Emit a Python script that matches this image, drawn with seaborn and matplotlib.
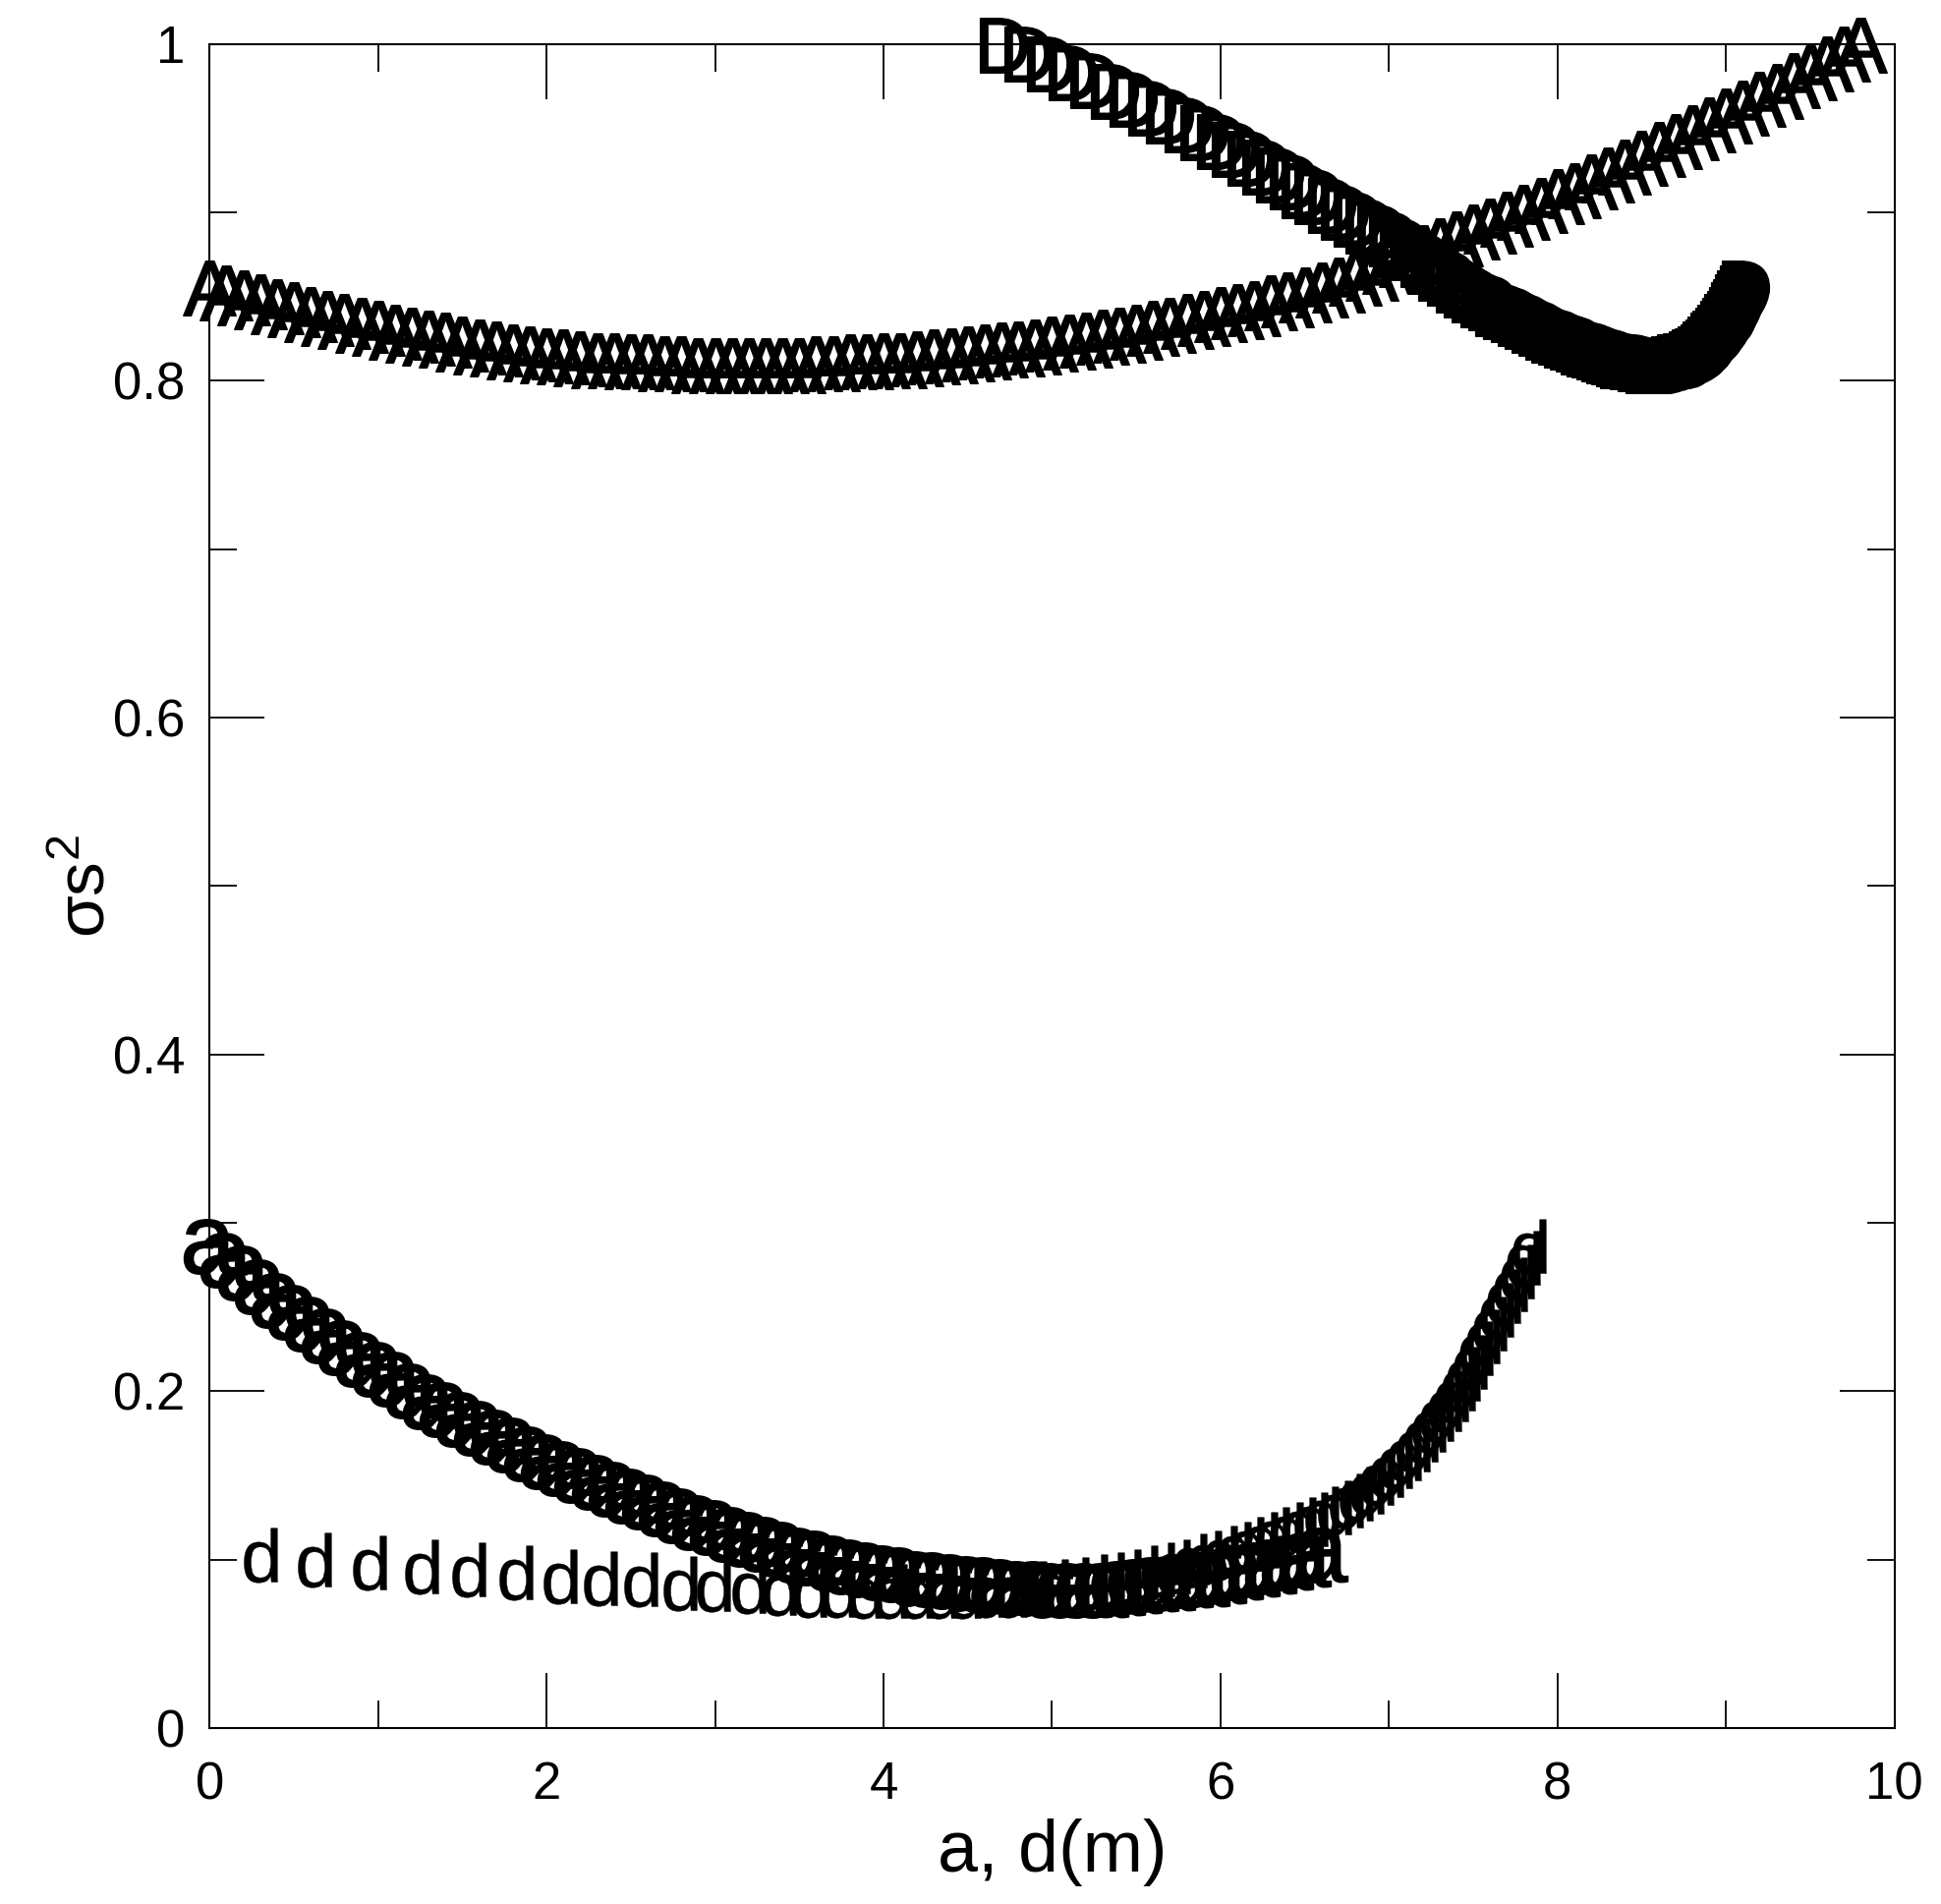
import matplotlib
matplotlib.use("Agg")
import matplotlib.pyplot as plt
import seaborn as sns

# upper curve, "A" markers (x = a)
A_x = [0.0, 0.1, 0.2, 0.3, 0.4, 0.5, 0.6, 0.7, 0.8, 0.9,
       1.0, 1.1, 1.2, 1.3, 1.4, 1.5, 1.6, 1.7, 1.8, 1.9,
       2.0, 2.1, 2.2, 2.3, 2.4, 2.5, 2.6, 2.7, 2.8, 2.9,
       3.0, 3.1, 3.2, 3.3, 3.4, 3.5, 3.6, 3.7, 3.8, 3.9,
       4.0, 4.1, 4.2, 4.3, 4.4, 4.5, 4.6, 4.7, 4.8, 4.9,
       5.0, 5.1, 5.2, 5.3, 5.4, 5.5, 5.6, 5.7, 5.8, 5.9,
       6.0, 6.1, 6.2, 6.3, 6.4, 6.5, 6.6, 6.7, 6.8, 6.9,
       7.0, 7.1, 7.2, 7.3, 7.4, 7.5, 7.6, 7.7, 7.8, 7.9,
       8.0, 8.1, 8.2, 8.3, 8.4, 8.5, 8.6, 8.7, 8.8, 8.9,
       9.0, 9.1, 9.2, 9.3, 9.4, 9.5, 9.6, 9.7, 9.8]
A_y = [0.855, 0.852, 0.849, 0.847, 0.844, 0.842, 0.839, 0.837, 0.835, 0.833,
       0.831, 0.829, 0.827, 0.825, 0.824, 0.822, 0.820, 0.819, 0.817, 0.816,
       0.815, 0.814, 0.813, 0.812, 0.812, 0.811, 0.811, 0.810, 0.810, 0.809,
       0.809, 0.809, 0.809, 0.809, 0.809, 0.809, 0.810, 0.810, 0.811, 0.811,
       0.812, 0.812, 0.813, 0.814, 0.815, 0.816, 0.817, 0.818, 0.819, 0.820,
       0.822, 0.823, 0.824, 0.826, 0.827, 0.829, 0.831, 0.833, 0.835, 0.837,
       0.839, 0.841, 0.843, 0.846, 0.848, 0.851, 0.854, 0.857, 0.861, 0.864,
       0.868, 0.872, 0.876, 0.880, 0.884, 0.888, 0.892, 0.896, 0.900, 0.904,
       0.909, 0.913, 0.918, 0.922, 0.927, 0.932, 0.937, 0.942, 0.947, 0.952,
       0.957, 0.962, 0.967, 0.972, 0.978, 0.983, 0.988, 0.994, 0.999]

# upper curve, "D" markers (x = d)
D_x = [4.71, 4.86, 4.99, 5.12, 5.25, 5.37, 5.48, 5.59, 5.70, 5.81,
       5.90, 6.00, 6.09, 6.18, 6.27, 6.35, 6.43, 6.50, 6.58, 6.66,
       6.736, 6.81, 6.882, 6.952, 7.02, 7.086, 7.149, 7.21, 7.264, 7.316,
       7.367, 7.417, 7.466, 7.514, 7.562, 7.608, 7.654, 7.699, 7.742, 7.785,
       7.827, 7.868, 7.908, 7.947, 7.985, 8.022, 8.058, 8.093, 8.127, 8.16,
       8.192, 8.223, 8.253, 8.283, 8.312, 8.341, 8.368, 8.395, 8.422, 8.448,
       8.473, 8.497, 8.521, 8.544, 8.567, 8.589, 8.611, 8.632, 8.653, 8.673,
       8.693, 8.713, 8.732, 8.75, 8.768, 8.786, 8.803, 8.82, 8.836, 8.852,
       8.868, 8.884, 8.899, 8.914, 8.929, 8.943, 8.957, 8.971, 8.985, 8.999,
       9.012, 9.026, 9.039, 9.052, 9.064, 9.077, 9.089, 9.102, 9.114]
D_y = [0.999, 0.994, 0.988, 0.983, 0.978, 0.972, 0.967, 0.962, 0.957, 0.952,
       0.947, 0.942, 0.937, 0.932, 0.927, 0.922, 0.918, 0.913, 0.909, 0.904,
       0.900, 0.896, 0.892, 0.888, 0.884, 0.880, 0.876, 0.872, 0.868, 0.864,
       0.861, 0.857, 0.854, 0.851, 0.848, 0.846, 0.843, 0.841, 0.839, 0.837,
       0.835, 0.833, 0.831, 0.829, 0.827, 0.826, 0.824, 0.823, 0.822, 0.820,
       0.819, 0.818, 0.817, 0.816, 0.815, 0.814, 0.813, 0.812, 0.812, 0.811,
       0.811, 0.810, 0.810, 0.809, 0.809, 0.809, 0.809, 0.809, 0.809, 0.809,
       0.810, 0.810, 0.811, 0.811, 0.812, 0.812, 0.813, 0.814, 0.815, 0.816,
       0.817, 0.819, 0.820, 0.822, 0.824, 0.825, 0.827, 0.829, 0.831, 0.833,
       0.835, 0.837, 0.839, 0.842, 0.844, 0.847, 0.849, 0.852, 0.855]

# lower curve, "a" markers
a_x = [0.0, 0.1, 0.2, 0.3, 0.4, 0.5, 0.6, 0.7, 0.8, 0.9,
       1.0, 1.1, 1.2, 1.3, 1.4, 1.5, 1.6, 1.7, 1.8, 1.9,
       2.0, 2.1, 2.2, 2.3, 2.4, 2.5, 2.6, 2.7, 2.8, 2.9,
       3.0, 3.1, 3.2, 3.3, 3.4, 3.5, 3.6, 3.7, 3.8, 3.9,
       4.0, 4.1, 4.2, 4.3, 4.4, 4.5, 4.6, 4.7, 4.8, 4.9,
       5.0, 5.1, 5.2, 5.3, 5.4, 5.5, 5.6, 5.7, 5.8, 5.9,
       6.0, 6.1, 6.2, 6.3, 6.4, 6.5, 6.6]
a_y = [0.286, 0.278, 0.270, 0.262, 0.254, 0.247, 0.240, 0.233, 0.226, 0.219,
       0.213, 0.207, 0.200, 0.194, 0.189, 0.183, 0.178, 0.173, 0.168, 0.163,
       0.158, 0.154, 0.150, 0.146, 0.142, 0.138, 0.134, 0.130, 0.126, 0.122,
       0.119, 0.115, 0.112, 0.109, 0.106, 0.103, 0.101, 0.098, 0.096, 0.094,
       0.092, 0.091, 0.089, 0.088, 0.087, 0.086, 0.085, 0.084, 0.083, 0.083,
       0.082, 0.082, 0.082, 0.082, 0.083, 0.084, 0.085, 0.086, 0.0875, 0.088,
       0.090, 0.092, 0.094, 0.096, 0.098, 0.100, 0.103]

# lower curve, "d" markers
d_x = [0.30, 0.62, 0.95, 1.26, 1.54, 1.82, 2.08, 2.32, 2.56, 2.79,
       2.99, 3.20, 3.38, 3.56, 3.73, 3.89, 4.04, 4.19, 4.34, 4.48,
       4.62, 4.75, 4.87, 5.00, 5.12, 5.23, 5.33, 5.43, 5.53, 5.63,
       5.72, 5.82, 5.91, 6.00, 6.08, 6.16, 6.24, 6.31, 6.39, 6.47,
       6.54, 6.60, 6.68, 6.745, 6.808, 6.869, 6.928, 6.985, 7.04, 7.093,
       7.144, 7.193, 7.24, 7.285, 7.328, 7.37, 7.41, 7.44, 7.48, 7.52,
       7.56, 7.60, 7.64, 7.68, 7.72, 7.76, 7.80, 7.83]
d_y = [0.103, 0.100, 0.098, 0.096, 0.094, 0.092, 0.090, 0.089, 0.088, 0.086,
       0.085, 0.084, 0.083, 0.082, 0.082, 0.081, 0.081, 0.081, 0.081, 0.081,
       0.082, 0.082, 0.083, 0.084, 0.085, 0.087, 0.088, 0.090, 0.092, 0.094,
       0.096, 0.099, 0.101, 0.104, 0.106, 0.109, 0.112, 0.115, 0.118, 0.121,
       0.124, 0.127, 0.131, 0.135, 0.139, 0.143, 0.148, 0.153, 0.158, 0.163,
       0.168, 0.174, 0.180, 0.186, 0.192, 0.198, 0.204, 0.210, 0.217, 0.225,
       0.232, 0.240, 0.248, 0.256, 0.263, 0.271, 0.279, 0.286]

x_ticks = [0, 2, 4, 6, 8, 10]
y_ticks = [0, 0.2, 0.4, 0.6, 0.8, 1.0]
y_tick_labels = ["0", "0.2", "0.4", "0.6", "0.8", "1"]

sns.set_style("ticks")
plt.rcParams['font.family'] = ['Liberation Sans', 'DejaVu Sans']
plt.rcParams['mathtext.fontset'] = 'custom'
plt.rcParams['mathtext.rm'] = 'Liberation Sans'
plt.rcParams['mathtext.it'] = 'Liberation Sans'
plt.rcParams['mathtext.default'] = 'regular'

fig, ax = plt.subplots(figsize=(19.75, 19.37), dpi=100)
fig.subplots_adjust(left=0.108, right=0.976, bottom=0.0924, top=0.977)

# each series drawn with its letter as the marker
for xs, ys, letter, lw in [(A_x, A_y, 'A', 1), (D_x, D_y, 'D', 1),
                           (a_x, a_y, 'a', 1), (d_x, d_y, 'd', 0.3)]:
    sns.scatterplot(x=xs, y=ys, marker=f'${letter}$', s=40 ** 2,
                    color='black', edgecolor='black', linewidth=lw,
                    clip_on=False, legend=False, ax=ax)

ax.set_xlim(0, 10)
ax.set_ylim(0, 1)
ax.set_xticks(x_ticks)
ax.set_xticks([1, 3, 5, 7, 9], minor=True)
ax.set_yticks(y_ticks)
ax.set_yticklabels(y_tick_labels)
ax.set_yticks([0.1, 0.3, 0.5, 0.7, 0.9], minor=True)

ax.tick_params(which='both', direction='in', top=True, right=True,
               width=1.3, color='black', labelcolor='black', labelsize=38)
ax.tick_params(which='major', length=40)
ax.tick_params(which='minor', length=20)
ax.tick_params(axis='x', pad=24)
ax.tick_params(axis='y', pad=18)
for sp in ax.spines.values():
    sp.set_linewidth(1.5)
    sp.set_color('black')

ax.set_xlabel('a, d(m)', fontsize=53, labelpad=6, color='black')
ax.set_ylabel('σs$^2$', fontsize=50, labelpad=-4, color='black')

fig.savefig('out.png', dpi=100)
